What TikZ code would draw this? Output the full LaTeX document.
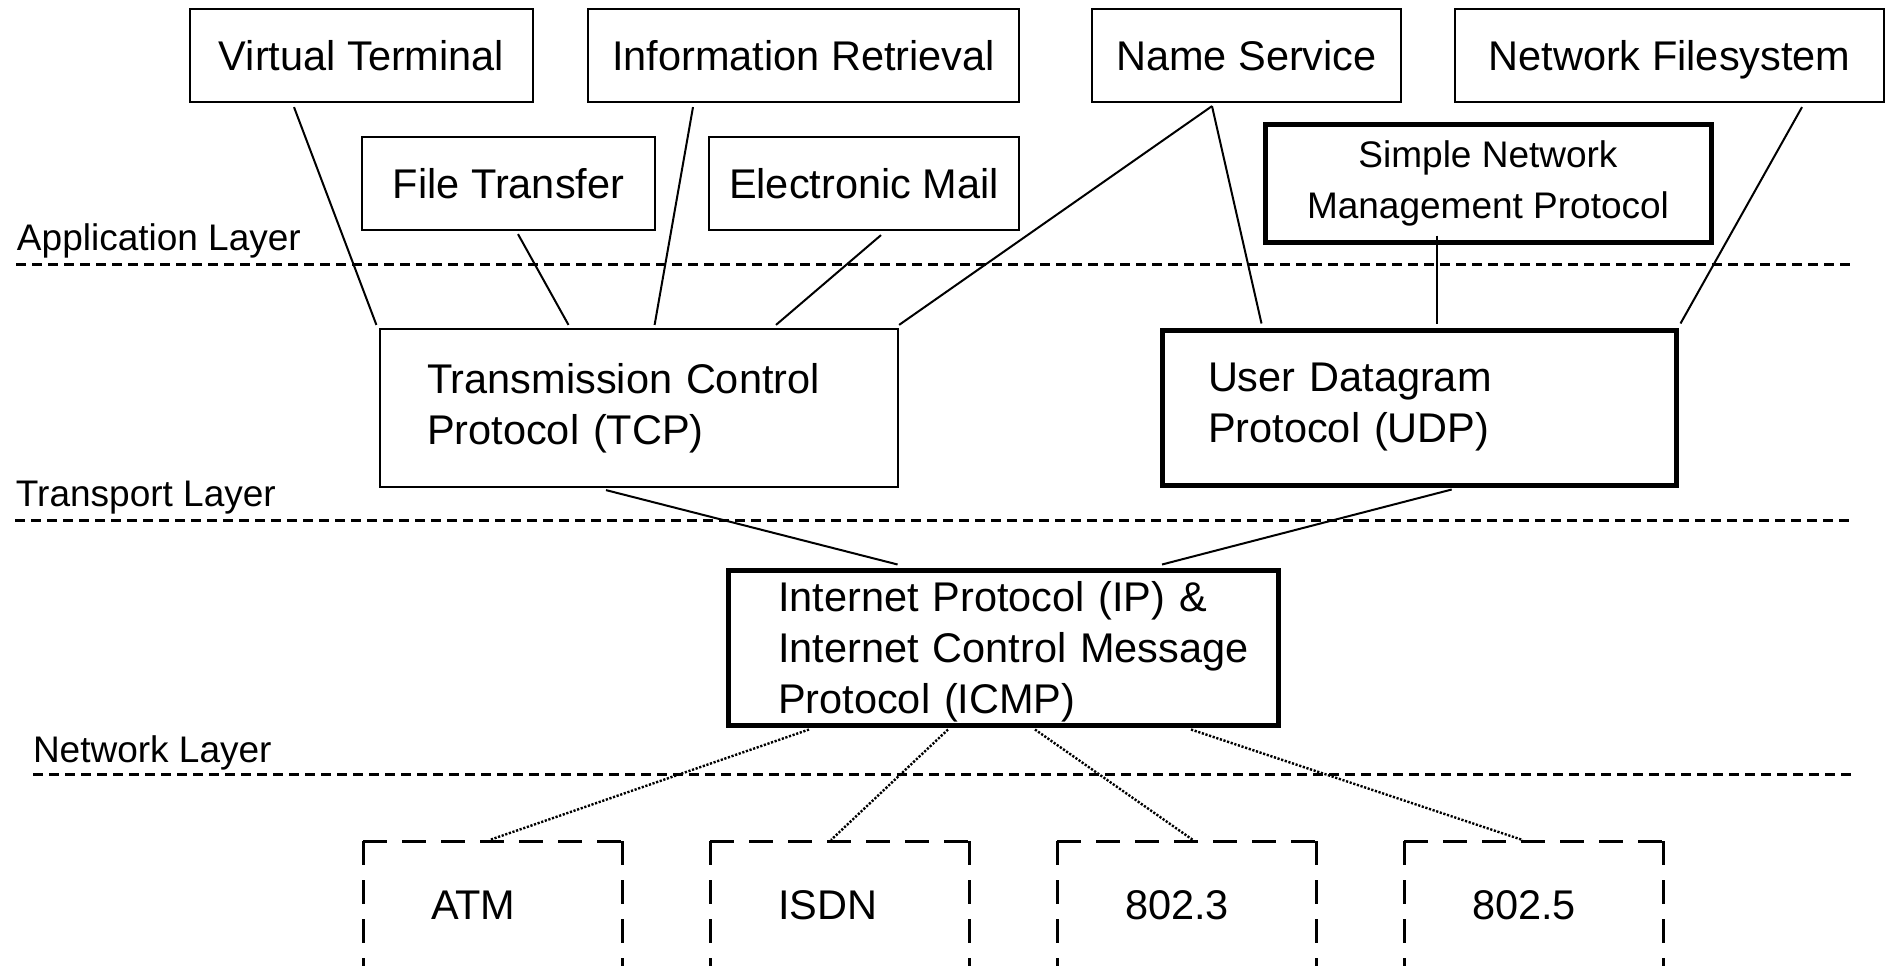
\documentclass[tikz,border=0pt]{standalone}
\usepackage{fontspec}
\setmainfont{Liberation Sans}
\tikzset{every picture/.style={line width=1pt}}
\tikzset{
  appbox/.style={draw, line width=1.1pt, inner sep=0pt, minimum height=46.5pt, text height=15pt, text depth=0pt, font=\fontsize{20.75}{23.5}\selectfont},
  protobox/.style={draw, line width=1.1pt, inner ysep=0pt, align=left, font=\fontsize{20.75}{25.5}\selectfont},
  boldbox/.style={line width=2.5pt},
  lanbox/.style={anchor=north west, inner ysep=0pt, inner xsep=33.5pt, text width=61.5pt, minimum height=62pt, align=left, text height=15pt, text depth=0pt, font=\fontsize{20.75}{23.5}\selectfont},
  layertext/.style={anchor=base west, inner sep=0pt, font=\fontsize{18.5}{22}\selectfont},
  layerline/.style={line width=1.5pt, dash pattern=on 5pt off 3pt},
  lanframe/.style={line width=1.5pt, dash pattern=on 12pt off 7.5pt},
  dotlink/.style={line width=1.2pt, dash pattern=on 1.1pt off 0.8pt}
}
\begin{document}
\begin{tikzpicture}[x=0.5pt,y=0.5pt,yscale=-1,xscale=1]
\useasboundingbox (0,0) rectangle (1891,965);

%Layer Lines
\draw[layerline] (16,264) -- (1852,264);
\draw[layerline] (15,520) -- (1852,520);
\draw[layerline] (33,774) -- (1852,774);
\node[layertext] (applabel) at (16,250) {Application Layer};
\node[layertext] (translabel) at (15,506) {Transport Layer};
\node[layertext] (netlabel) at (32,762) {Network Layer};

%Application Protocols
\node[appbox, minimum width=171.5pt] (vt) at (361.5,55.5) {Virtual Terminal};
\node[appbox, minimum width=215.5pt] (ir) at (803.5,55.5) {Information Retrieval};
\node[appbox, minimum width=154.5pt] (ns) at (1246.5,55.5) {Name Service};
\node[appbox, minimum width=214.5pt] (nf) at (1669.5,55.5) {Network Filesystem};
\node[appbox, minimum width=146.5pt] (ft) at (508.5,183.5) {File Transfer};
\node[appbox, minimum width=155pt] (em) at (864,183.5) {Electronic Mail};
\node[draw, boldbox, inner sep=0pt, minimum width=223pt, minimum height=59pt, align=center, font=\fontsize{18.5}{25.5}\selectfont] (snmp) at (1488,183) {Simple Network\\Management Protocol};

%Transport and Network Protocols
\node[protobox, inner xsep=23.5pt, text width=212pt, minimum height=79pt] (tcp) at (639,408) {Transmission Control\\Protocol (TCP)};
\node[protobox, boldbox, inner xsep=23pt, text width=211pt, minimum height=77.5pt] (udp) at (1419,407.5) {User Datagram\\Protocol (UDP)};
\node[protobox, boldbox, inner xsep=25pt, text width=225pt, minimum height=77.5pt, text depth=51pt] (ip) at (1003,647.5) {\mbox{Internet Protocol (IP) \&}\\\mbox{Internet Control Message}\\\mbox{Protocol (ICMP)}};

%Networks
\node[lanbox] (atm) at (363,841) {ATM};
\node[lanbox] (isdn) at (710,841) {ISDN};
\node[lanbox] (lan3) at (1057,841) {802.3};
\node[lanbox] (lan5) at (1404,841) {802.5};
\foreach \n in {atm,isdn,lan3,lan5}{
  \draw[lanframe] (\n.north west) -- (\n.north east);
  \draw[lanframe] (\n.north west) -- (\n.south west);
  \draw[lanframe] (\n.north east) -- (\n.south east);
}

%Straight Lines
\draw ([shift={(-67.5,4)}]vt.south) -- ([shift={(-2.5,-3)}]tcp.north west);
\draw ([shift={(9.5,3)}]ft.south) -- ([shift={(-70.5,-3)}]tcp.north);
\draw ([shift={(-110.5,4)}]ir.south) -- ([shift={(15.6,-3)}]tcp.north);
\draw ([shift={(17,4)}]em.south) -- ([shift={(137,-3)}]tcp.north);
\draw ([shift={(-34.5,3)}]ns.south) -- ([shift={(0,-3)}]tcp.north east);
\draw ([shift={(-34.5,3)}]ns.south) -- ([shift={(-157.5,-4)}]udp.north);
\draw ([shift={(-51,-9)}]snmp.south) -- ([shift={(18,-4)}]udp.north);
\draw ([shift={(132.5,4)}]nf.south) -- ([shift={(2,-4)}]udp.north east);
\draw ([shift={(-33,2)}]tcp.south) -- ([shift={(-105.4,-3)}]ip.north);
\draw ([shift={(32.7,2)}]udp.south) -- ([shift={(159,-3)}]ip.north);

%Dotted Lines
\draw[dotlink] ([shift={(-194,2)}]ip.south) -- ([shift={(126.5,-1)}]atm.north west);
\draw[dotlink] ([shift={(-55,2)}]ip.south) -- ([shift={(121,-1)}]isdn.north west);
\draw[dotlink] ([shift={(32,2)}]ip.south) -- ([shift={(136,-1)}]lan3.north west);
\draw[dotlink] ([shift={(188,2)}]ip.south) -- ([shift={(118.7,-1)}]lan5.north west);

\end{tikzpicture}
\end{document}
